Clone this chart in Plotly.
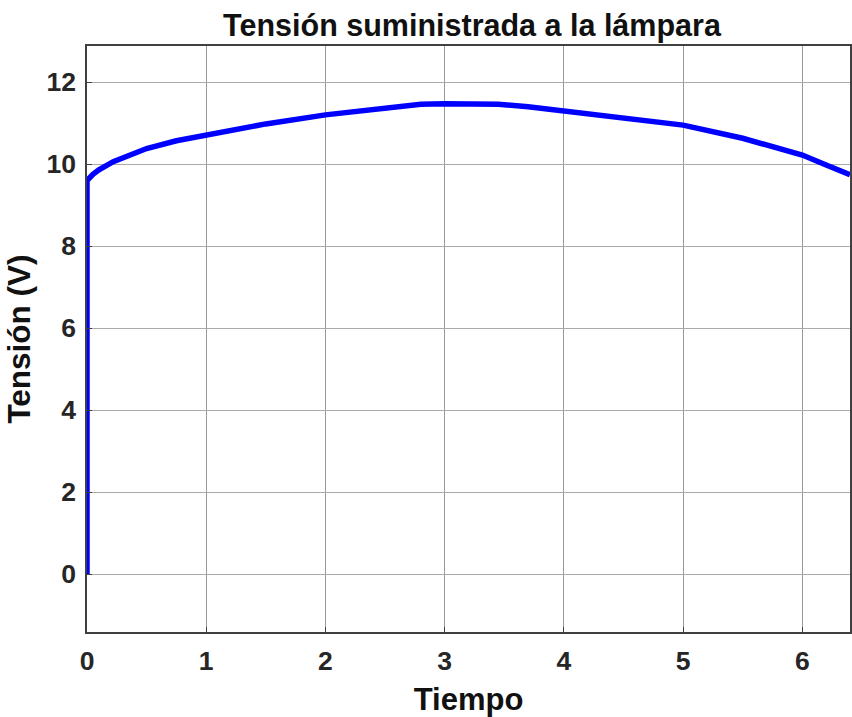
import plotly.graph_objects as go

# Data
tiempo = [0, 0, 0.05, 0.1, 0.22, 0.35, 0.5, 0.75, 1.0, 1.5, 2.0, 2.4, 2.8, 3.0, 3.2, 3.45,
          3.7, 4.0, 4.5, 5.0, 5.5, 5.8, 6.0, 6.2, 6.4]
tension = [0, 9.6, 9.75, 9.86, 10.06, 10.22, 10.38, 10.57, 10.71, 10.98, 11.2, 11.34, 11.46,
           11.47, 11.47, 11.46, 11.4, 11.3, 11.15, 10.95, 10.63, 10.4, 10.22, 9.98, 9.74]

x_ticks = [0, 1, 2, 3, 4, 5, 6]
y_ticks = [0, 2, 4, 6, 8, 10, 12]

title_text = "Tensión suministrada a la lámpara"
x_title = "Tiempo"
y_title = "Tensión (V)"

FONT = "Liberation Sans, Arial, sans-serif"
TXT = "#262626"

fig = go.Figure()
fig.add_trace(go.Scatter(x=tiempo, y=tension, mode="lines",
                         line=dict(color="#0000FF", width=5.5), hoverinfo="skip"))

fig.update_layout(
    width=852, height=717,
    margin=dict(l=87, r=0, t=46, b=85),
    paper_bgcolor="white", plot_bgcolor="white",
    showlegend=False,
    title=dict(text=title_text, x=472/852, xref="container", xanchor="center",
               y=1-25/717, yref="container", yanchor="middle",
               font=dict(family=FONT, size=30.5, color="#111111", weight="bold")),
    font=dict(family=FONT, color=TXT),
)
fig.update_xaxes(
    range=[0, 6.40], tickvals=x_ticks, ticktext=[str(v) for v in x_ticks],
    showgrid=True, gridcolor="#999999", gridwidth=1,
    showline=True, linecolor="#404040", linewidth=1.5, mirror=True,
    ticks="inside", ticklen=5, tickcolor="#404040", zeroline=False,
    tickfont=dict(family=FONT, size=26.5, color=TXT, weight="bold"),
    ticklabelstandoff=4,
    title=dict(text=x_title, standoff=14,
               font=dict(family=FONT, size=31, color="#111111", weight="bold")),
)
fig.update_yaxes(
    range=[-1.41, 12.88], tickvals=y_ticks, ticktext=[str(v) for v in y_ticks],
    showgrid=True, gridcolor="#aaaaaa", gridwidth=1,
    showline=True, linecolor="#404040", linewidth=1.5, mirror=True,
    ticks="inside", ticklen=5, tickcolor="#404040", zeroline=False,
    tickfont=dict(family=FONT, size=26.5, color=TXT, weight="bold"),
    ticklabelstandoff=4,
    title=dict(text=y_title, standoff=6,
               font=dict(family=FONT, size=31.5, color="#111111", weight="bold")),
)

fig.write_html("out.html", config={"displayModeBar": False},
               post_script="document.body.style.margin='0';document.body.style.overflow='hidden';")
